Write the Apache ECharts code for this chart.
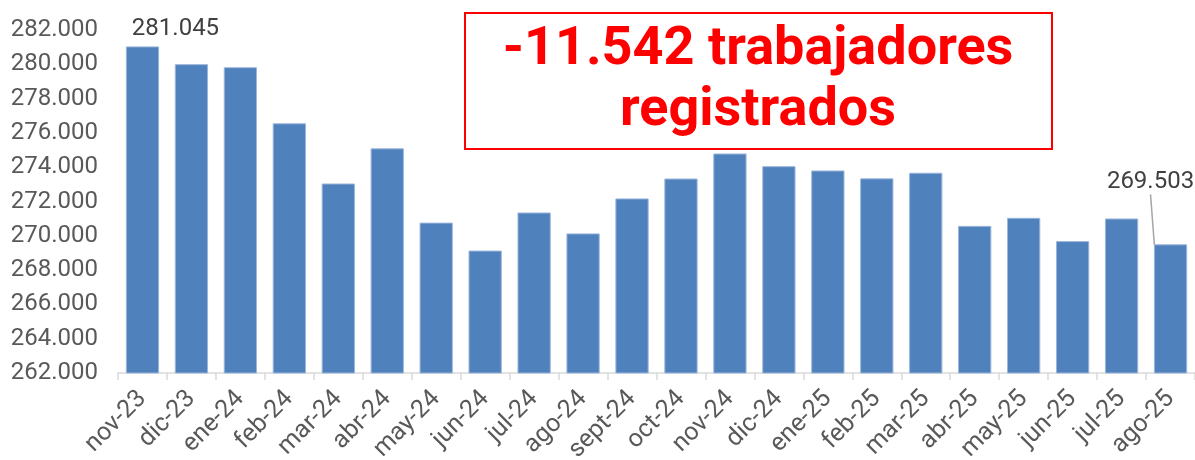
<!DOCTYPE html>
<html>
<head>
<meta charset="utf-8">
<script src="https://cdn.jsdelivr.net/npm/echarts@6/dist/echarts.min.js"></script>
<style>html,body{margin:0;padding:0;background:#fff}#c{width:1195px;height:460px}</style>
</head>
<body>
<div id="c"></div>
<script>
const categories = ['nov-23','dic-23','ene-24','feb-24','mar-24','abr-24','may-24','jun-24','jul-24','ago-24','sept-24','oct-24','nov-24','dic-24','ene-25','feb-25','mar-25','abr-25','may-25','jun-25','jul-25','ago-25'];
const values = [281045,280010,279830,276560,273050,275100,270770,269140,271360,270140,272180,273340,274800,274060,273810,273350,273680,270580,271050,269690,271010,269503];
const labelledIndexes = [0, 21];
const yMin = 262000, yMax = 282000, yStep = 2000;
const headline = '-11.542 trabajadores\nregistrados';

function fmt(v){ return String(v).replace(/\B(?=(\d{3})+(?!\d))/g, '.'); }

const chart = echarts.init(document.getElementById('c'), null, {renderer:'canvas'});
const data = values.map((v,i) => {
  const d = {value: v};
  if (labelledIndexes.indexOf(i) >= 0) {
    d.label = {show:true, position:'top'};
  }
  if (i === labelledIndexes[1]) {
    d.labelLine = {show:true, lineStyle:{color:'#a6a6a6', width:1.5}};
  }
  return d;
});

chart.setOption({
  animation:false,
  grid:{left:118, right:0, top:30, bottom:87, containLabel:false, outerBoundsMode:'none'},
  xAxis:{
    type:'category', data:categories,
    axisLine:{lineStyle:{color:'#d9d9d9', width:1.5}},
    axisTick:{show:true, alignWithLabel:false, length:7, lineStyle:{color:'#d9d9d9', width:1.5}},
    axisLabel:{rotate:45, fontSize:25, color:'#595959', fontFamily:'Roboto', margin:22, interval:0}
  },
  yAxis:{
    type:'value', min:yMin, max:yMax, interval:yStep,
    axisLine:{show:false}, axisTick:{show:false}, splitLine:{show:false},
    axisLabel:{fontSize:24, color:'#595959', fontFamily:'Roboto', margin:20, formatter:v=>fmt(v)}
  },
  series:[{
    type:'bar', data:data, barCategoryGap:'32%',
    itemStyle:{color:'#4F81BD', borderColor:'#9DB7DB', borderWidth:1},
    label:{show:false, fontSize:24, color:'#404040', fontFamily:'Roboto', formatter:p=>fmt(p.value)},
    labelLine:{show:false},
    labelLayout: p => {
      if (p.dataIndex === labelledIndexes[0]) return {dx:33, dy:0};
      if (p.dataIndex === labelledIndexes[1]) return {dx:-20, dy:-45};
      return {};
    }
  }],
  graphic:[
    {type:'rect', shape:{x:465, y:13, width:587, height:136}, style:{fill:'#fff', stroke:'#ff0000', lineWidth:2}, z:10},
    {type:'text', x:758, y:81, z:11, style:{text:headline, fill:'#ff0000', font:'bold 54px Roboto', textAlign:'center', textVerticalAlign:'middle', lineHeight:61}}
  ]
});
</script>
</body>
</html>
